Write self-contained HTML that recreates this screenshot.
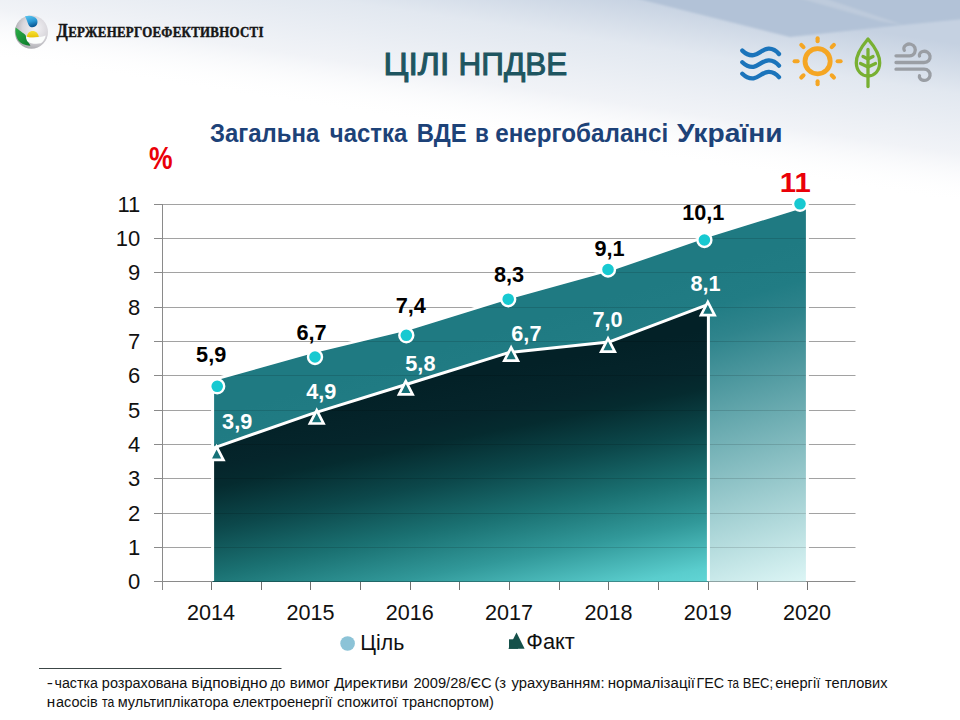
<!DOCTYPE html>
<html><head><meta charset="utf-8"><title>ЦІЛІ НПДВЕ</title>
<style>
html,body{margin:0;padding:0;background:#fff;width:960px;height:720px;overflow:hidden;}
svg{display:block;font-family:"Liberation Sans",sans-serif;}
</style></head><body>
<svg xmlns="http://www.w3.org/2000/svg" width="960" height="720" viewBox="0 0 960 720">
<defs>
<linearGradient id="bgTop" x1="0" y1="0" x2="0" y2="1">
  <stop offset="0" stop-color="#e6eaf1"/>
  <stop offset="0.55" stop-color="#f3f5f8"/>
  <stop offset="1" stop-color="#ffffff"/>
</linearGradient>
<linearGradient id="bgRight" x1="0" y1="0" x2="1" y2="0">
  <stop offset="0" stop-color="#d8dfe9" stop-opacity="0"/>
  <stop offset="0.45" stop-color="#d0d9e5" stop-opacity="0.7"/>
  <stop offset="1" stop-color="#c4d0de" stop-opacity="1"/>
</linearGradient>
<linearGradient id="factGrad" gradientUnits="userSpaceOnUse" x1="212.0" y1="427.6" x2="261.0" y2="672.8">
  <stop offset="0" stop-color="rgb(3,33,39)"/>
  <stop offset="0.157" stop-color="rgb(5,37,43)"/>
  <stop offset="0.235" stop-color="rgb(5,43,47)"/>
  <stop offset="0.396" stop-color="rgb(12,72,75)"/>
  <stop offset="0.573" stop-color="rgb(26,112,113)"/>
  <stop offset="0.749" stop-color="rgb(49,152,153)"/>
  <stop offset="0.937" stop-color="rgb(90,205,205)"/>
  <stop offset="1" stop-color="rgb(98,214,214)"/>
</linearGradient>
<linearGradient id="tgtGrad" gradientUnits="userSpaceOnUse" x1="212.0" y1="416.4" x2="305.6" y2="728.3">
  <stop offset="0" stop-color="rgb(31,122,130)"/>
  <stop offset="0.118" stop-color="rgb(33,124,132)"/>
  <stop offset="0.215" stop-color="rgb(47,132,140)"/>
  <stop offset="1" stop-color="rgb(218,244,244)"/>
</linearGradient>
</defs>
<rect x="0" y="0" width="960" height="720" fill="#ffffff"/>
<linearGradient id="bgDiag" gradientUnits="userSpaceOnUse" x1="480.0" y1="132.0" x2="503.5" y2="-24.5"><stop offset="0" stop-color="#ffffff" stop-opacity="0"/><stop offset="0.3125" stop-color="rgb(241,243,247)"/><stop offset="0.6875" stop-color="rgb(226,232,240)"/><stop offset="1" stop-color="rgb(197,209,225)"/></linearGradient>
<rect x="0" y="0" width="960" height="200" fill="url(#bgDiag)"/>
<filter id="soft" x="-5%" y="-50%" width="110%" height="200%"><feGaussianBlur stdDeviation="1.3"/></filter>
<g filter="url(#soft)">
<polygon points="627,-4 964,-4 964,19 903,25 790,37" fill="rgb(178,194,215)"/>
<polygon points="792,-4 818,-4 903,25 880,21" fill="rgb(190,203,220)"/>
</g>
<radialGradient id="sph" cx="0.62" cy="0.38" r="0.65">
  <stop offset="0" stop-color="#f4f3f6"/>
  <stop offset="0.6" stop-color="#d9d7dc"/>
  <stop offset="1" stop-color="#a9a9ae"/>
</radialGradient>
<linearGradient id="drop" x1="0" y1="0" x2="0.3" y2="1">
  <stop offset="0" stop-color="#5cc8f2"/>
  <stop offset="0.6" stop-color="#2a98d4"/>
  <stop offset="1" stop-color="#0d5c98"/>
</linearGradient>
<linearGradient id="yel" x1="0" y1="0" x2="0" y2="1">
  <stop offset="0" stop-color="#f6e23a"/>
  <stop offset="1" stop-color="#e8c000"/>
</linearGradient>
<linearGradient id="grn" x1="0" y1="0" x2="1" y2="1">
  <stop offset="0" stop-color="#2cae48"/>
  <stop offset="1" stop-color="#0c7a2a"/>
</linearGradient>
<g id="logo">
<circle cx="31.4" cy="32.1" r="16.6" fill="url(#sph)"/>
<path d="M25,16.2 C29,15 35,15.5 37,19.5 C38.5,23 36.5,27.3 32.5,27.3 C29.5,27.3 28.5,25 27.8,23 C27,20.5 26,18 25,16.2 Z" fill="url(#drop)"/>
<path d="M26.7,37.6 C26.8,33.5 29.5,30.9 32.7,30.9 C36,30.9 38.7,33.5 38.7,37 C35,37.8 30,37.9 26.7,37.6 Z" fill="url(#yel)"/>
<path d="M15.6,27.6 C16.8,28.5 21,31.5 25.5,35 C26.5,38 27.5,42 30.5,45.6 C27,46 21,44 18,40 C15.8,36.5 15,32 15.6,27.6 Z" fill="url(#grn)"/>
<path d="M26,36.4 C31,38.2 39,38 45.6,35.6 C45.2,38.8 43.6,41.5 41,43.2 C36,44.2 30.5,43.6 27.5,41.4 C26.6,40 26.1,38.2 26,36.4 Z" fill="#fbfdfc"/>
</g>
<text x="56.6" y="36.9" font-family="Liberation Serif" font-weight="bold" fill="#161616" stroke="#161616" stroke-width="0.45" textLength="240.5" lengthAdjust="spacing" transform="translate(56.6,0) scale(0.86,1) translate(-56.6,0)"><tspan font-size="19.2">Д</tspan><tspan font-size="15">ЕРЖЕНЕРГОЕФЕКТИВНОСТІ</tspan></text>
<text x="383.45" y="75.20" font-family="Liberation Sans" font-weight="normal" font-size="32.2" fill="#1e5560" textLength="65.91" lengthAdjust="spacingAndGlyphs" stroke="#1e5560" stroke-width="1.05">ЦІЛІ</text>
<text x="458.57" y="75.20" font-family="Liberation Sans" font-weight="normal" font-size="32.2" fill="#1e5560" textLength="108.63" lengthAdjust="spacingAndGlyphs" stroke="#1e5560" stroke-width="1.05">НПДВЕ</text>
<text x="210.04" y="141.50" font-family="Liberation Sans" font-weight="bold" font-size="25" fill="#1d4278" textLength="109.29" lengthAdjust="spacingAndGlyphs">Загальна</text>
<text x="329.84" y="141.50" font-family="Liberation Sans" font-weight="bold" font-size="25" fill="#1d4278" textLength="77.44" lengthAdjust="spacingAndGlyphs">частка</text>
<text x="416.84" y="141.50" font-family="Liberation Sans" font-weight="bold" font-size="25" fill="#1d4278" textLength="49.93" lengthAdjust="spacingAndGlyphs">ВДЕ</text>
<text x="474.90" y="141.50" font-family="Liberation Sans" font-weight="bold" font-size="25" fill="#1d4278" textLength="13.84" lengthAdjust="spacingAndGlyphs">в</text>
<text x="495.28" y="141.50" font-family="Liberation Sans" font-weight="bold" font-size="25" fill="#1d4278" textLength="172.89" lengthAdjust="spacingAndGlyphs">енергобалансі</text>
<text x="676.90" y="141.50" font-family="Liberation Sans" font-weight="bold" font-size="25" fill="#1d4278" textLength="105.73" lengthAdjust="spacingAndGlyphs">України</text>
<g fill="none" stroke="#1b74bb" stroke-width="4.3" stroke-linecap="round">
<path d="M742.3,50.6 C745.8,54.0 749.5,55.6 753.5,55.2 C759,54.2 762.5,49.0 768.5,48.7 C773,48.5 776.5,51.0 779,54.0"/>
<path d="M742.3,62.2 C745.8,65.6 749.5,67.2 753.5,66.8 C759,65.8 762.5,60.6 768.5,60.3 C773,60.1 776.5,62.6 779,65.6"/>
<path d="M742.3,73.8 C745.8,77.2 749.5,78.8 753.5,78.4 C759,77.4 762.5,72.2 768.5,71.9 C773,71.7 776.5,74.2 779,77.2"/>
</g>
<g stroke="#f5a623" fill="none" stroke-linecap="round">
<circle cx="817.6" cy="61.2" r="12.6" stroke-width="4.8"/>
<line x1="817.6" y1="41.2" x2="817.6" y2="38.2" stroke-width="4.1"/>
<line x1="831.7" y1="47.1" x2="833.9" y2="44.9" stroke-width="4.1"/>
<line x1="837.6" y1="61.2" x2="840.6" y2="61.2" stroke-width="4.1"/>
<line x1="831.7" y1="75.3" x2="833.9" y2="77.5" stroke-width="4.1"/>
<line x1="817.6" y1="81.2" x2="817.6" y2="84.2" stroke-width="4.1"/>
<line x1="803.5" y1="75.3" x2="801.3" y2="77.5" stroke-width="4.1"/>
<line x1="797.6" y1="61.2" x2="794.6" y2="61.2" stroke-width="4.1"/>
<line x1="803.5" y1="47.1" x2="801.3" y2="44.9" stroke-width="4.1"/>
</g>
<g stroke="#78b032" fill="none" stroke-width="3.3" stroke-linecap="round" stroke-linejoin="round">
<path d="M868,39 C862,46 856,54 856.3,63 C856.6,71 861.5,76 868,76 C874.5,76 879.4,71 879.7,63 C880,54 874,46 868,39 Z"/>
<path d="M868,49.5 L868,86.5"/>
<path d="M863,56.5 L868,59 L873,56.5"/>
<path d="M860.5,63.5 L868,67 L875.5,63.5"/>
</g>
<g stroke="#9a9ea4" fill="none" stroke-width="3.3" stroke-linecap="round">
<path d="M896,55.8 L909.5,55.8 C914.5,55.8 916.3,51 914.8,47.5 C913.3,44 908.8,43.3 906.3,44.8 C903.8,46.3 903.3,48.8 904.3,50.3"/>
<path d="M896,62.5 L924,62.5 C928,62.5 930.5,59.5 930,56 C929.5,52.5 926,50.5 922.5,51.5 C920,52.3 919,54.5 919.5,56"/>
<path d="M896,69.2 L924,69.2 C928,69.2 930.5,72.2 930,75.7 C929.5,79.2 926,81 922.5,80.2 C920,79.4 919,77.2 919.5,75.8"/>
</g>
<text x="0" y="0" font-family="Liberation Sans" font-weight="bold" font-size="30.5" fill="#ea0008" transform="translate(148.9,169.2) scale(0.87,1)">%</text>
<rect x="154" y="547" width="701.5" height="1" fill="#a2a2a2"/>
<rect x="154" y="513" width="701.5" height="1" fill="#a2a2a2"/>
<rect x="154" y="478" width="701.5" height="1" fill="#a2a2a2"/>
<rect x="154" y="444" width="701.5" height="1" fill="#a2a2a2"/>
<rect x="154" y="410" width="701.5" height="1" fill="#a2a2a2"/>
<rect x="154" y="375" width="701.5" height="1" fill="#a2a2a2"/>
<rect x="154" y="341" width="701.5" height="1" fill="#a2a2a2"/>
<rect x="154" y="307" width="701.5" height="1" fill="#a2a2a2"/>
<rect x="154" y="272" width="701.5" height="1" fill="#a2a2a2"/>
<rect x="154" y="238" width="701.5" height="1" fill="#a2a2a2"/>
<rect x="154" y="204" width="701.5" height="1" fill="#a2a2a2"/>
<clipPath id="areaClip"><polygon points="212.6,379.8 310.7,352.4 410.1,328.4 509.4,297.6 608.7,270.1 708.0,235.9 807.4,205.0 807.4,582 212.6,582"/></clipPath>
<polygon points="212.6,379.8 310.7,352.4 410.1,328.4 509.4,297.6 608.7,270.1 708.0,235.9 807.4,205.0 807.4,582 212.6,582" fill="url(#tgtGrad)"/>
<polygon points="212.6,448.3 310.7,414.1 410.1,383.2 509.4,352.4 608.7,342.1 708.4,304.4 708.4,582 212.6,582" fill="url(#factGrad)"/>
<g clip-path="url(#areaClip)">
<rect x="200" y="547" width="620" height="1" fill="#000" opacity="0.13"/>
<rect x="200" y="513" width="620" height="1" fill="#000" opacity="0.13"/>
<rect x="200" y="478" width="620" height="1" fill="#000" opacity="0.13"/>
<rect x="200" y="444" width="620" height="1" fill="#000" opacity="0.13"/>
<rect x="200" y="410" width="620" height="1" fill="#000" opacity="0.13"/>
<rect x="200" y="375" width="620" height="1" fill="#000" opacity="0.13"/>
<rect x="200" y="341" width="620" height="1" fill="#000" opacity="0.13"/>
<rect x="200" y="307" width="620" height="1" fill="#000" opacity="0.13"/>
<rect x="200" y="272" width="620" height="1" fill="#000" opacity="0.13"/>
<rect x="200" y="238" width="620" height="1" fill="#000" opacity="0.13"/>
<rect x="200" y="204" width="620" height="1" fill="#000" opacity="0.13"/>
</g>
<polyline points="212.6,581 212.6,379.8 310.7,352.4 410.1,328.4 509.4,297.6 608.7,270.1 708.0,235.9 807.4,205.0 807.4,581" fill="none" stroke="#ffffff" stroke-width="3" stroke-linejoin="round"/>
<polyline points="212.6,448.3 310.7,414.1 410.1,383.2 509.4,352.4 608.7,342.1 708.4,304.4 708.4,581" fill="none" stroke="#ffffff" stroke-width="3" stroke-linejoin="round"/>
<rect x="162" y="204" width="1" height="386" fill="#8a8a8a"/>
<rect x="154" y="581" width="58" height="1" fill="#8a8a8a"/>
<rect x="806" y="581" width="49.5" height="1" fill="#8a8a8a"/>
<rect x="212" y="581" width="594" height="1" fill="#000" opacity="0.3"/>
<rect x="154" y="581" width="8" height="1" fill="#8a8a8a"/>
<rect x="154" y="547" width="8" height="1" fill="#8a8a8a"/>
<rect x="154" y="513" width="8" height="1" fill="#8a8a8a"/>
<rect x="154" y="478" width="8" height="1" fill="#8a8a8a"/>
<rect x="154" y="444" width="8" height="1" fill="#8a8a8a"/>
<rect x="154" y="410" width="8" height="1" fill="#8a8a8a"/>
<rect x="154" y="375" width="8" height="1" fill="#8a8a8a"/>
<rect x="154" y="341" width="8" height="1" fill="#8a8a8a"/>
<rect x="154" y="307" width="8" height="1" fill="#8a8a8a"/>
<rect x="154" y="272" width="8" height="1" fill="#8a8a8a"/>
<rect x="154" y="238" width="8" height="1" fill="#8a8a8a"/>
<rect x="154" y="204" width="8" height="1" fill="#8a8a8a"/>
<rect x="211" y="582" width="1" height="8" fill="#707070"/>
<rect x="261" y="582" width="1" height="8" fill="#707070"/>
<rect x="310" y="582" width="1" height="8" fill="#707070"/>
<rect x="360" y="582" width="1" height="8" fill="#707070"/>
<rect x="410" y="582" width="1" height="8" fill="#707070"/>
<rect x="459" y="582" width="1" height="8" fill="#707070"/>
<rect x="509" y="582" width="1" height="8" fill="#707070"/>
<rect x="559" y="582" width="1" height="8" fill="#707070"/>
<rect x="608" y="582" width="1" height="8" fill="#707070"/>
<rect x="658" y="582" width="1" height="8" fill="#707070"/>
<rect x="708" y="582" width="1" height="8" fill="#707070"/>
<rect x="757" y="582" width="1" height="8" fill="#707070"/>
<rect x="807" y="582" width="1" height="8" fill="#707070"/>
<text x="140.3" y="589.2" font-family="Liberation Sans" font-size="22" fill="#111" text-anchor="end">0</text>
<text x="140.3" y="555.2" font-family="Liberation Sans" font-size="22" fill="#111" text-anchor="end">1</text>
<text x="140.3" y="521.2" font-family="Liberation Sans" font-size="22" fill="#111" text-anchor="end">2</text>
<text x="140.3" y="486.2" font-family="Liberation Sans" font-size="22" fill="#111" text-anchor="end">3</text>
<text x="140.3" y="452.2" font-family="Liberation Sans" font-size="22" fill="#111" text-anchor="end">4</text>
<text x="140.3" y="418.2" font-family="Liberation Sans" font-size="22" fill="#111" text-anchor="end">5</text>
<text x="140.3" y="383.2" font-family="Liberation Sans" font-size="22" fill="#111" text-anchor="end">6</text>
<text x="140.3" y="349.2" font-family="Liberation Sans" font-size="22" fill="#111" text-anchor="end">7</text>
<text x="140.3" y="315.2" font-family="Liberation Sans" font-size="22" fill="#111" text-anchor="end">8</text>
<text x="140.3" y="280.2" font-family="Liberation Sans" font-size="22" fill="#111" text-anchor="end">9</text>
<text x="140.3" y="246.2" font-family="Liberation Sans" font-size="22" fill="#111" text-anchor="end">10</text>
<text x="140.3" y="212.2" font-family="Liberation Sans" font-size="22" fill="#111" text-anchor="end">11</text>
<text x="211.1" y="620" font-family="Liberation Sans" font-size="21.6" fill="#111" text-anchor="middle">2014</text>
<text x="310.4" y="620" font-family="Liberation Sans" font-size="21.6" fill="#111" text-anchor="middle">2015</text>
<text x="409.8" y="620" font-family="Liberation Sans" font-size="21.6" fill="#111" text-anchor="middle">2016</text>
<text x="509.1" y="620" font-family="Liberation Sans" font-size="21.6" fill="#111" text-anchor="middle">2017</text>
<text x="608.4" y="620" font-family="Liberation Sans" font-size="21.6" fill="#111" text-anchor="middle">2018</text>
<text x="707.8" y="620" font-family="Liberation Sans" font-size="21.6" fill="#111" text-anchor="middle">2019</text>
<text x="807.1" y="620" font-family="Liberation Sans" font-size="21.6" fill="#111" text-anchor="middle">2020</text>
<circle cx="217.2" cy="386.3" r="7.0" fill="#17c9d1" stroke="#ffffff" stroke-width="2.4"/>
<circle cx="315.0" cy="357.0" r="7.0" fill="#17c9d1" stroke="#ffffff" stroke-width="2.4"/>
<circle cx="406.3" cy="335.3" r="7.0" fill="#17c9d1" stroke="#ffffff" stroke-width="2.4"/>
<circle cx="508.2" cy="299.2" r="7.0" fill="#17c9d1" stroke="#ffffff" stroke-width="2.4"/>
<circle cx="608.0" cy="269.5" r="7.0" fill="#17c9d1" stroke="#ffffff" stroke-width="2.4"/>
<circle cx="704.4" cy="240.0" r="7.0" fill="#17c9d1" stroke="#ffffff" stroke-width="2.4"/>
<circle cx="800.0" cy="203.8" r="7.0" fill="#17c9d1" stroke="#ffffff" stroke-width="2.4"/>
<polygon points="216.6,446.6 209.8,459.8 223.4,459.8" fill="#167178" stroke="#ffffff" stroke-width="2.7" stroke-linejoin="miter"/>
<polygon points="316.7,410.3 309.9,423.5 323.5,423.5" fill="#167178" stroke="#ffffff" stroke-width="2.7" stroke-linejoin="miter"/>
<polygon points="405.8,381.2 399.0,394.4 412.6,394.4" fill="#167178" stroke="#ffffff" stroke-width="2.7" stroke-linejoin="miter"/>
<polygon points="511.1,347.5 504.3,360.7 517.9,360.7" fill="#167178" stroke="#ffffff" stroke-width="2.7" stroke-linejoin="miter"/>
<polygon points="608.0,338.5 601.2,351.7 614.8,351.7" fill="#167178" stroke="#ffffff" stroke-width="2.7" stroke-linejoin="miter"/>
<polygon points="707.8,302.0 701.0,315.2 714.6,315.2" fill="#167178" stroke="#ffffff" stroke-width="2.7" stroke-linejoin="miter"/>
<text x="211.2" y="362.0" font-family="Liberation Sans" font-weight="bold" font-size="21.7" fill="#000" text-anchor="middle">5,9</text>
<text x="311.6" y="340.0" font-family="Liberation Sans" font-weight="bold" font-size="21.7" fill="#000" text-anchor="middle">6,7</text>
<text x="410.8" y="313.3" font-family="Liberation Sans" font-weight="bold" font-size="21.7" fill="#000" text-anchor="middle">7,4</text>
<text x="509.0" y="282.4" font-family="Liberation Sans" font-weight="bold" font-size="21.7" fill="#000" text-anchor="middle">8,3</text>
<text x="609.6" y="255.8" font-family="Liberation Sans" font-weight="bold" font-size="21.7" fill="#000" text-anchor="middle">9,1</text>
<text x="703.3" y="220.0" font-family="Liberation Sans" font-weight="bold" font-size="21.7" fill="#000" text-anchor="middle">10,1</text>
<text x="795.3" y="192.2" font-family="Liberation Sans" font-weight="bold" font-size="28" fill="#ea0008" text-anchor="middle" textLength="31" lengthAdjust="spacingAndGlyphs">11</text>
<text x="237.2" y="429.0" font-family="Liberation Sans" font-weight="bold" font-size="21.7" fill="#ffffff" text-anchor="middle">3,9</text>
<text x="321.3" y="399.0" font-family="Liberation Sans" font-weight="bold" font-size="21.7" fill="#ffffff" text-anchor="middle">4,9</text>
<text x="420.4" y="370.6" font-family="Liberation Sans" font-weight="bold" font-size="21.7" fill="#ffffff" text-anchor="middle">5,8</text>
<text x="526.4" y="341.0" font-family="Liberation Sans" font-weight="bold" font-size="21.7" fill="#ffffff" text-anchor="middle">6,7</text>
<text x="607.5" y="327.2" font-family="Liberation Sans" font-weight="bold" font-size="21.7" fill="#ffffff" text-anchor="middle">7,0</text>
<text x="705.5" y="291.0" font-family="Liberation Sans" font-weight="bold" font-size="21.7" fill="#ffffff" text-anchor="middle">8,1</text>
<circle cx="347.6" cy="643.5" r="7.3" fill="#8cc3d7"/>
<text x="360.3" y="649.7" font-family="Liberation Sans" font-size="21.3" fill="#111">Ціль</text>
<rect x="509" y="639.3" width="9" height="9.5" fill="#15504a"/>
<polygon points="508.4,648.8 516.5,632.4 524.6,648.8" fill="#15504a"/>
<text x="526.3" y="649.3" font-family="Liberation Sans" font-size="21.3" fill="#111" textLength="48.5" lengthAdjust="spacingAndGlyphs">Факт</text>
<rect x="39" y="668" width="242.5" height="1" fill="#3c4646"/>
<text x="46.77" y="687.80" font-family="Liberation Sans" font-weight="normal" font-size="14" fill="#111" textLength="6.23" lengthAdjust="spacingAndGlyphs">-</text>
<text x="54.48" y="687.80" font-family="Liberation Sans" font-weight="normal" font-size="14" fill="#111" textLength="43.43" lengthAdjust="spacingAndGlyphs">частка</text>
<text x="101.86" y="687.80" font-family="Liberation Sans" font-weight="normal" font-size="14" fill="#111" textLength="85.55" lengthAdjust="spacingAndGlyphs">розрахована</text>
<text x="191.39" y="687.80" font-family="Liberation Sans" font-weight="normal" font-size="14" fill="#111" textLength="75.98" lengthAdjust="spacingAndGlyphs">відповідно</text>
<text x="270.40" y="687.80" font-family="Liberation Sans" font-weight="normal" font-size="14" fill="#111" textLength="14.97" lengthAdjust="spacingAndGlyphs">до</text>
<text x="289.74" y="687.80" font-family="Liberation Sans" font-weight="normal" font-size="14" fill="#111" textLength="40.13" lengthAdjust="spacingAndGlyphs">вимог</text>
<text x="334.20" y="687.80" font-family="Liberation Sans" font-weight="normal" font-size="14" fill="#111" textLength="73.70" lengthAdjust="spacingAndGlyphs">Директиви</text>
<text x="413.45" y="687.80" font-family="Liberation Sans" font-weight="normal" font-size="14" fill="#111" textLength="78.25" lengthAdjust="spacingAndGlyphs">2009/28/ЄС</text>
<text x="494.45" y="687.80" font-family="Liberation Sans" font-weight="normal" font-size="14" fill="#111" textLength="11.65" lengthAdjust="spacingAndGlyphs">(з</text>
<text x="511.50" y="687.80" font-family="Liberation Sans" font-weight="normal" font-size="14" fill="#111" textLength="93.01" lengthAdjust="spacingAndGlyphs">урахуванням:</text>
<text x="607.72" y="687.80" font-family="Liberation Sans" font-weight="normal" font-size="14" fill="#111" textLength="87.31" lengthAdjust="spacingAndGlyphs">нормалізації</text>
<text x="696.48" y="687.80" font-family="Liberation Sans" font-weight="normal" font-size="14" fill="#111" textLength="27.57" lengthAdjust="spacingAndGlyphs">ГЕС</text>
<text x="727.40" y="687.80" font-family="Liberation Sans" font-weight="normal" font-size="14" fill="#111" textLength="11.64" lengthAdjust="spacingAndGlyphs">та</text>
<text x="742.77" y="687.80" font-family="Liberation Sans" font-weight="normal" font-size="14" fill="#111" textLength="30.29" lengthAdjust="spacingAndGlyphs">ВЕС;</text>
<text x="775.16" y="687.80" font-family="Liberation Sans" font-weight="normal" font-size="14" fill="#111" textLength="45.05" lengthAdjust="spacingAndGlyphs">енергії</text>
<text x="825.00" y="687.80" font-family="Liberation Sans" font-weight="normal" font-size="14" fill="#111" textLength="62.50" lengthAdjust="spacingAndGlyphs">теплових</text>
<text x="46.66" y="707.00" font-family="Liberation Sans" font-weight="normal" font-size="14" fill="#111" textLength="8.44" lengthAdjust="spacingAndGlyphs">н</text>
<text x="56.07" y="707.00" font-family="Liberation Sans" font-weight="normal" font-size="14" fill="#111" textLength="41.62" lengthAdjust="spacingAndGlyphs">асосів</text>
<text x="102.10" y="707.00" font-family="Liberation Sans" font-weight="normal" font-size="14" fill="#111" textLength="12.24" lengthAdjust="spacingAndGlyphs">та</text>
<text x="117.77" y="707.00" font-family="Liberation Sans" font-weight="normal" font-size="14" fill="#111" textLength="110.88" lengthAdjust="spacingAndGlyphs">мультиплікатора</text>
<text x="232.75" y="707.00" font-family="Liberation Sans" font-weight="normal" font-size="14" fill="#111" textLength="99.59" lengthAdjust="spacingAndGlyphs">електроенергії</text>
<text x="336.94" y="707.00" font-family="Liberation Sans" font-weight="normal" font-size="14" fill="#111" textLength="60.71" lengthAdjust="spacingAndGlyphs">спожитої</text>
<text x="402.30" y="707.00" font-family="Liberation Sans" font-weight="normal" font-size="14" fill="#111" textLength="91.53" lengthAdjust="spacingAndGlyphs">транспортом)</text>
</svg>
</body></html>
